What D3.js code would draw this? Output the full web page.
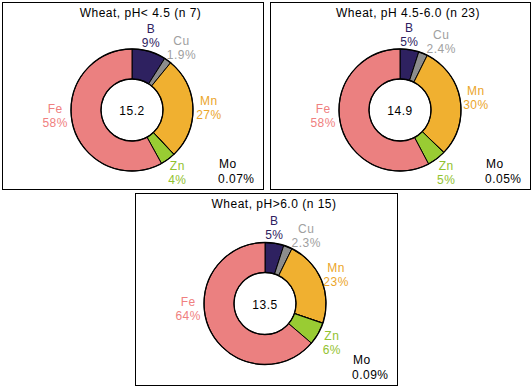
<!DOCTYPE html>
<html>
<head>
<meta charset="utf-8">
<script src="https://cdn.jsdelivr.net/npm/d3@7"></script>
<style>
  body { margin: 0; background: #fff; }
  text { font-family: "Liberation Sans", Arial, sans-serif; font-size: 12px; letter-spacing: 0.5px; }
</style>
</head>
<body>
<div id="chart"></div>
<script>
// Data
const nutrients = ["B", "Cu", "Mn", "Mo", "Zn", "Fe"];
const titles = ["Wheat, pH< 4.5 (n 7)", "Wheat, pH 4.5-6.0 (n 23)", "Wheat, pH>6.0 (n 15)"];
const totals = [15.2, 14.9, 13.5];
const sharesLow = [9, 1.9, 27, 0.07, 4, 58];
const sharesMid = [5, 2.4, 30, 0.05, 5, 58];
const sharesHigh = [5, 2.3, 23, 0.09, 6, 64];

const sliceColor = { B: "#2e2160", Cu: "#8c8c8c", Mn: "#f0b030", Mo: "#000000", Zn: "#99cc33", Fe: "#eb8080" };
const labelColor = { B: "#2e2160", Cu: "#a0a0a0", Mn: "#eba52a", Mo: "#000000", Zn: "#92c22f", Fe: "#f08080" };

const W = 532, H = 388;
const svg = d3.select("#chart").append("svg")
  .attr("width", W).attr("height", H);

// panel boxes
const panels = [
  { x: 2, y: 2, w: 261, h: 187, shares: sharesLow },
  { x: 270, y: 2, w: 260, h: 187, shares: sharesMid },
  { x: 135, y: 193, w: 262, h: 192, shares: sharesHigh }
];

const pie = d3.pie().sort(null).value(d => d.value);
const rOuter = 61, rInner = 31, rLabel = 77;
const arc = d3.arc().innerRadius(rInner).outerRadius(rOuter);
const deg = Math.PI / 180;

panels.forEach((p, i) => {
  const g = svg.append("g").attr("transform", `translate(${p.x},${p.y})`);

  g.append("rect")
    .attr("x", 0.5).attr("y", 0.5)
    .attr("width", p.w).attr("height", p.h)
    .attr("fill", "#fff").attr("stroke", "#000");

  g.append("text")
    .attr("x", p.w / 2 + 8).attr("y", 15)
    .attr("text-anchor", "middle")
    .text(titles[i]);

  const cx = 130, cy = p.h / 2 + 14.5;
  const donut = g.append("g").attr("transform", `translate(${cx},${cy})`);

  const data = nutrients.map((n, k) => ({ name: n, value: p.shares[k] }));
  const arcs = pie(data);

  donut.selectAll("path")
    .data(arcs)
    .enter().append("path")
      .attr("d", arc)
      .attr("fill", d => sliceColor[d.data.name])
      .attr("stroke", "#000")
      .attr("stroke-width", 1);

  // outer and inner rings
  donut.append("circle").attr("r", rOuter).attr("fill", "none").attr("stroke", "#000").attr("stroke-width", 1.3);
  donut.append("circle").attr("r", rInner).attr("fill", "none").attr("stroke", "#000").attr("stroke-width", 1.3);

  donut.append("text")
    .attr("y", 5)
    .attr("text-anchor", "middle")
    .text(totals[i]);

  // slice labels: B nudged left, Cu pushed clear of B, biggest slice on the left
  let bAngle = 0;
  arcs.filter(d => d.data.name !== "Mo").forEach(d => {
    let a = (d.startAngle + d.endAngle) / 2;
    let r = rLabel;
    if (d.data.name === "B") { a -= 2 * deg; bAngle = a; }
    if (d.data.name === "Cu") { a = Math.max(a, bAngle + 24 * deg); r = 80; }
    if (d.data.name === "Fe") a = -Math.PI / 2 - 0.06;
    const lx = Math.sin(a) * r;
    const ly = -Math.cos(a) * r;
    const t = donut.append("text")
      .attr("text-anchor", "middle")
      .attr("fill", labelColor[d.data.name]);
    t.append("tspan").attr("x", lx).attr("y", ly - 2).text(d.data.name);
    t.append("tspan").attr("x", lx).attr("y", ly + 12).text(`${d.data.value}%`);
  });

  // Mo in the lower right corner
  const mo = data.find(d => d.name === "Mo");
  const mt = g.append("text").attr("fill", labelColor.Mo);
  mt.append("tspan").attr("x", p.w - 44).attr("y", p.h - 21).text("Mo");
  mt.append("tspan").attr("x", p.w - 45).attr("y", p.h - 6).text(`${mo.value}%`);
});
</script>
</body>
</html>
